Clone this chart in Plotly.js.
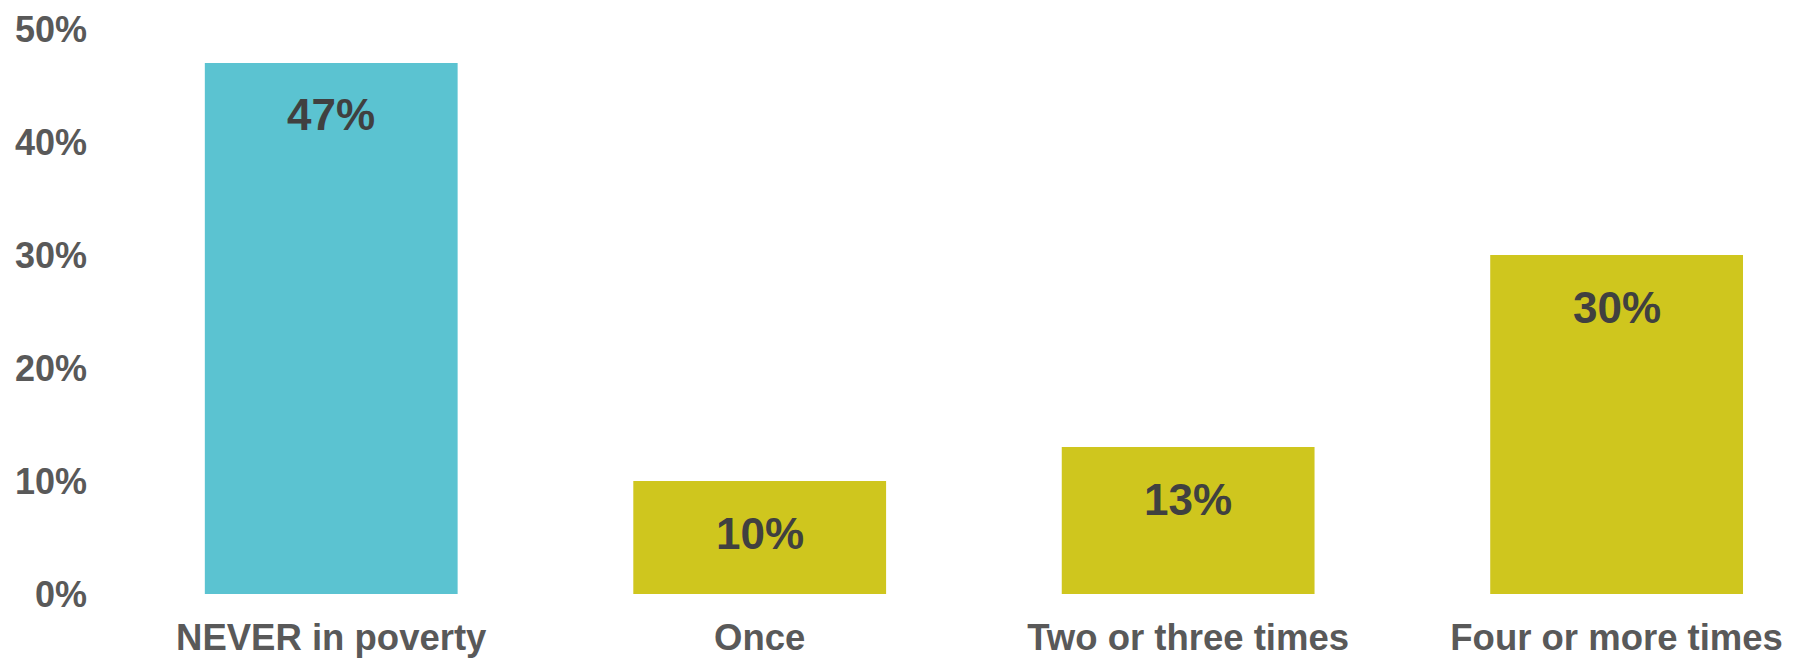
<!DOCTYPE html>
<html>
<head>
<meta charset="utf-8">
<script src="https://cdn.plot.ly/plotly-3.0.1.min.js"></script>
<style>html,body{margin:0;padding:0;background:#fff;}#chart{width:1800px;height:659px;}</style>
</head>
<body>
<div id="chart"></div>
<script>
const categories = ["NEVER in poverty", "Once", "Two or three times", "Four or more times"];
const values = [47, 10, 13, 30];
const barColors = ["#5BC3D1", "#CFC61E", "#CFC61E", "#CFC61E"];
const yTicks = [0, 10, 20, 30, 40, 50];
const yTickLabels = ["0%", "10%", "20%", "30%", "40%", "50%"];

const font = "Liberation Sans, Arial, sans-serif";

const trace = {
  type: "bar",
  x: categories,
  y: values,
  marker: {color: barColors, line: {width: 0}},
  hoverinfo: "skip"
};

const annotations = categories.map((c, i) => ({
  x: c, y: values[i], xref: "x", yref: "y",
  text: "<b>" + values[i] + "%</b>",
  showarrow: false, yanchor: "middle", yshift: -52,
  font: {family: font, size: 44, color: "#404040"}
}));

const layout = {
  width: 1800, height: 659,
  margin: {l: 117, r: 0, t: 29, b: 65},
  paper_bgcolor: "#ffffff", plot_bgcolor: "#ffffff",
  bargap: 0.41,
  showlegend: false,
  xaxis: {
    type: "category",
    range: [-0.5, 3.428],
    showgrid: false, zeroline: false, showline: false,
    ticks: "",
    tickfont: {family: font, size: 36.5, color: "#595959", weight: "bold"},
    ticklabelstandoff: 18
  },
  yaxis: {
    range: [0, 50],
    tickvals: yTicks, ticktext: yTickLabels,
    showgrid: false, zeroline: false, showline: false,
    ticks: "",
    tickfont: {family: font, size: 36, color: "#595959", weight: "bold"},
    ticklabelstandoff: 29
  },
  annotations: annotations
};

Plotly.newPlot("chart", [trace], layout, {displayModeBar: false, staticPlot: true});
</script>
</body>
</html>
